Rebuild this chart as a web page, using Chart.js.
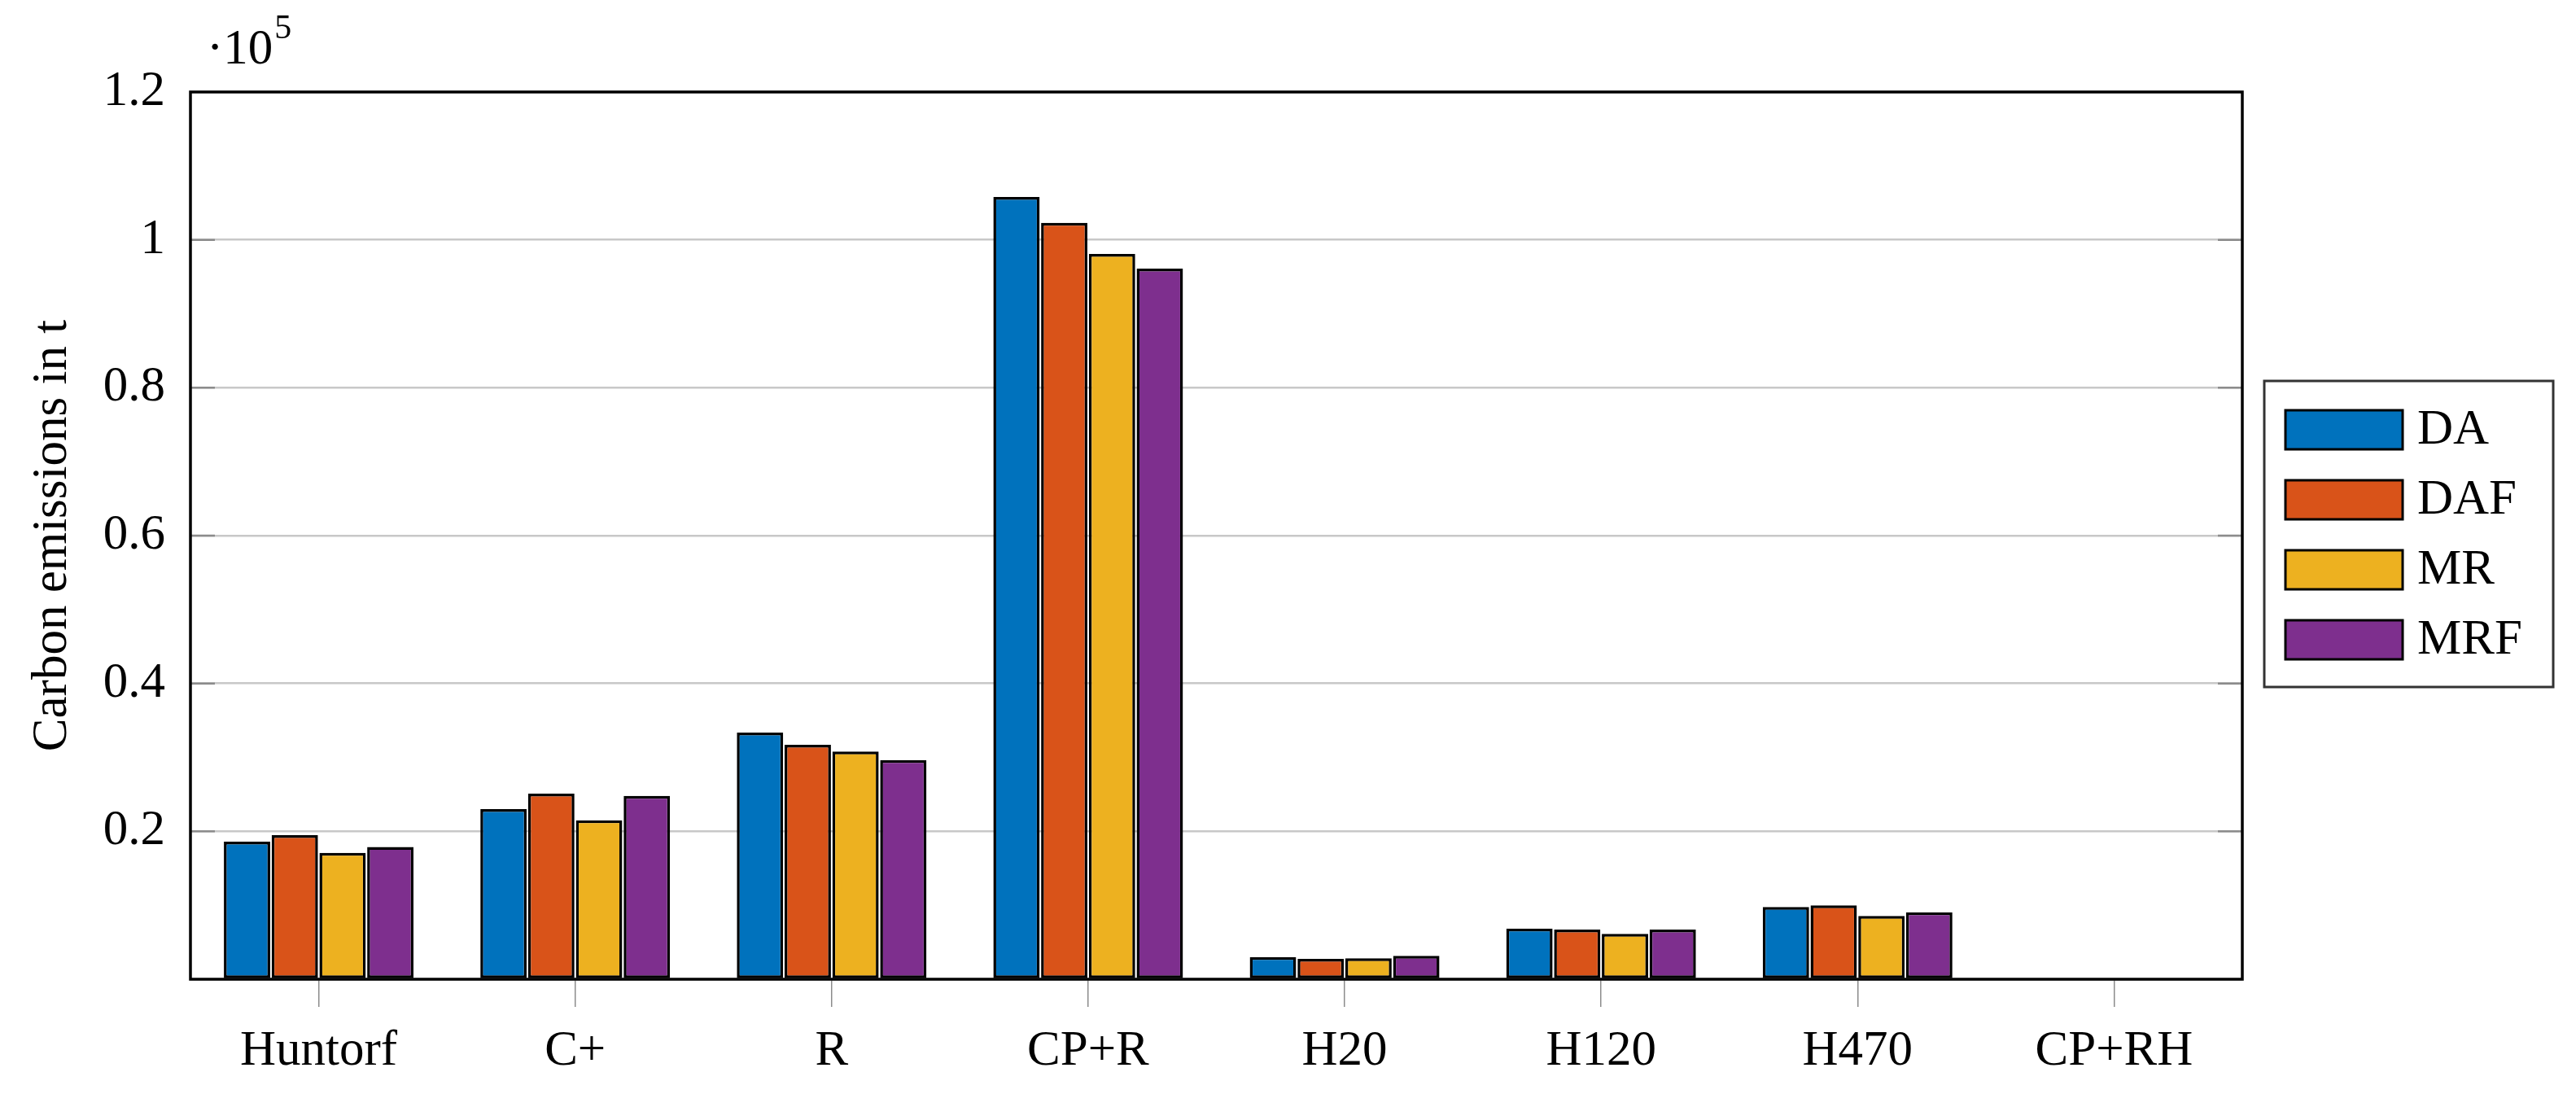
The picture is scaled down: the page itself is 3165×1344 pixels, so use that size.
<!DOCTYPE html>
<html>
<head>
<meta charset="utf-8">
<title>Carbon emissions</title>
<script src="https://cdn.jsdelivr.net/npm/chart.js@4"></script>
<style>
    html, body { margin: 0; padding: 0; background: #ffffff; }
    #emissionsChart { display: block; }
</style>
</head>
<body>
<canvas id="emissionsChart" width="3165" height="1344"></canvas>
<script>
// data (values in t)
const categories = ['Huntorf', 'C+', 'R', 'CP+R', 'H20', 'H120', 'H470', 'CP+RH'];
const seriesNames = ['DA', 'DAF', 'MR', 'MRF'];
const daValues  = [18600, 23000, 33350, 105800, 3010, 6860, 9760, 0];
const dafValues = [19500, 25100, 31700, 102300, 2750, 6720, 10000, 0];
const mrValues  = [17100, 21500, 30800,  98100, 2830, 6130, 8550, 0];
const mrfValues = [17900, 24800, 29650,  96100, 3160, 6720, 9060, 0];
const yTickValues = [0, 20000, 40000, 60000, 80000, 100000, 120000];

// MATLAB-like default colours
const seriesColors = ['#0072BD', '#D95319', '#EDB120', '#7E2F8E'];

const FONT_FAMILY = "'Liberation Serif', 'DejaVu Serif', serif";
const FONT_SIZE = 61;

Chart.defaults.font.family = FONT_FAMILY;
Chart.defaults.font.size = FONT_SIZE;
Chart.defaults.color = '#000000';

// axis frame, inner tick marks, exponent label and the boxed legend
const framePlugin = {
    id: 'frame',
    afterDatasetsDraw(chart) {
        const { ctx, chartArea: a, scales } = chart;
        ctx.save();

        // short darker ticks on the gridlines, left and right
        ctx.strokeStyle = '#8c8c8c';
        ctx.lineWidth = 2.5;
        yTickValues.forEach(v => {
            if (v === 0 || v === yTickValues[yTickValues.length - 1]) return;
            const y = scales.y.getPixelForValue(v);
            ctx.beginPath();
            ctx.moveTo(a.left, y);
            ctx.lineTo(a.left + 30, y);
            ctx.moveTo(a.right - 30, y);
            ctx.lineTo(a.right, y);
            ctx.stroke();
        });

        // black box around the plot
        ctx.strokeStyle = '#000000';
        ctx.lineWidth = 3.5;
        ctx.strokeRect(a.left, a.top, a.right - a.left, a.bottom - a.top);

        // exponent label
        ctx.fillStyle = '#000000';
        ctx.textBaseline = 'alphabetic';
        ctx.textAlign = 'left';
        ctx.font = `${FONT_SIZE}px ${FONT_FAMILY}`;
        ctx.fillText('\u00b710', a.left + 20, a.top - 35);
        const w = ctx.measureText('\u00b710').width;
        ctx.font = `42px ${FONT_FAMILY}`;
        ctx.fillText('5', a.left + 22 + w, a.top - 66);

        // legend
        const lx = 2782, ly = 468, lw = 355, lh = 376;
        ctx.strokeStyle = '#333333';
        ctx.lineWidth = 3;
        ctx.strokeRect(lx, ly, lw, lh);
        chart.data.datasets.forEach((ds, i) => {
            const sy = ly + 36 + i * 86;
            ctx.fillStyle = ds.backgroundColor;
            ctx.fillRect(lx + 26, sy, 144, 48);
            ctx.strokeStyle = '#000000';
            ctx.lineWidth = 3;
            ctx.strokeRect(lx + 26, sy, 144, 48);
            ctx.fillStyle = '#000000';
            ctx.font = `${FONT_SIZE}px ${FONT_FAMILY}`;
            ctx.fillText(ds.label, lx + 188, sy + 41);
        });

        ctx.restore();
    }
};

function makeDataset(label, values, color) {
    return {
        label: label,
        data: values,
        backgroundColor: color,
        borderColor: '#000000',
        borderWidth: 3.5,
        borderSkipped: false,
        categoryPercentage: 0.745,
        barPercentage: 0.97
    };
}

function initChart() {
    const ctx = document.getElementById('emissionsChart');
    if (!ctx) return;

    const valueSets = [daValues, dafValues, mrValues, mrfValues];

    new Chart(ctx, {
        type: 'bar',
        data: {
            labels: categories,
            datasets: seriesNames.map((name, i) => makeDataset(name, valueSets[i], seriesColors[i]))
        },
        options: {
            responsive: false,
            devicePixelRatio: 1,
            animation: false,
            layout: {
                padding: { left: 0, right: 410, top: 113, bottom: 0 }
            },
            plugins: {
                legend: { display: false },
                tooltip: { enabled: false }
            },
            scales: {
                x: {
                    offset: true,
                    border: { display: false },
                    grid: {
                        offset: false,
                        drawOnChartArea: false,
                        drawTicks: true,
                        tickLength: 34,
                        color: '#8c8c8c',
                        lineWidth: 1.5
                    },
                    ticks: {
                        padding: 18,
                        maxRotation: 0,
                        color: '#000000'
                    },
                    afterFit: scale => { scale.height = 141; }
                },
                y: {
                    min: 0,
                    max: 120000,
                    border: { display: false },
                    afterBuildTicks: scale => {
                        scale.ticks = yTickValues.map(v => ({ value: v }));
                    },
                    grid: {
                        drawTicks: false,
                        color: '#c8c8c8',
                        lineWidth: 2.5
                    },
                    ticks: {
                        padding: 31,
                        color: '#000000',
                        callback: v => v === 0 ? '' : String(Math.round(v / 10000) / 10)
                    },
                    title: {
                        display: true,
                        text: 'Carbon emissions in t',
                        color: '#000000',
                        padding: { top: 28, bottom: 0 }
                    },
                    afterFit: scale => { scale.width = 234; }
                }
            }
        },
        plugins: [framePlugin]
    });
}

document.addEventListener('DOMContentLoaded', initChart);
</script>
</body>
</html>
